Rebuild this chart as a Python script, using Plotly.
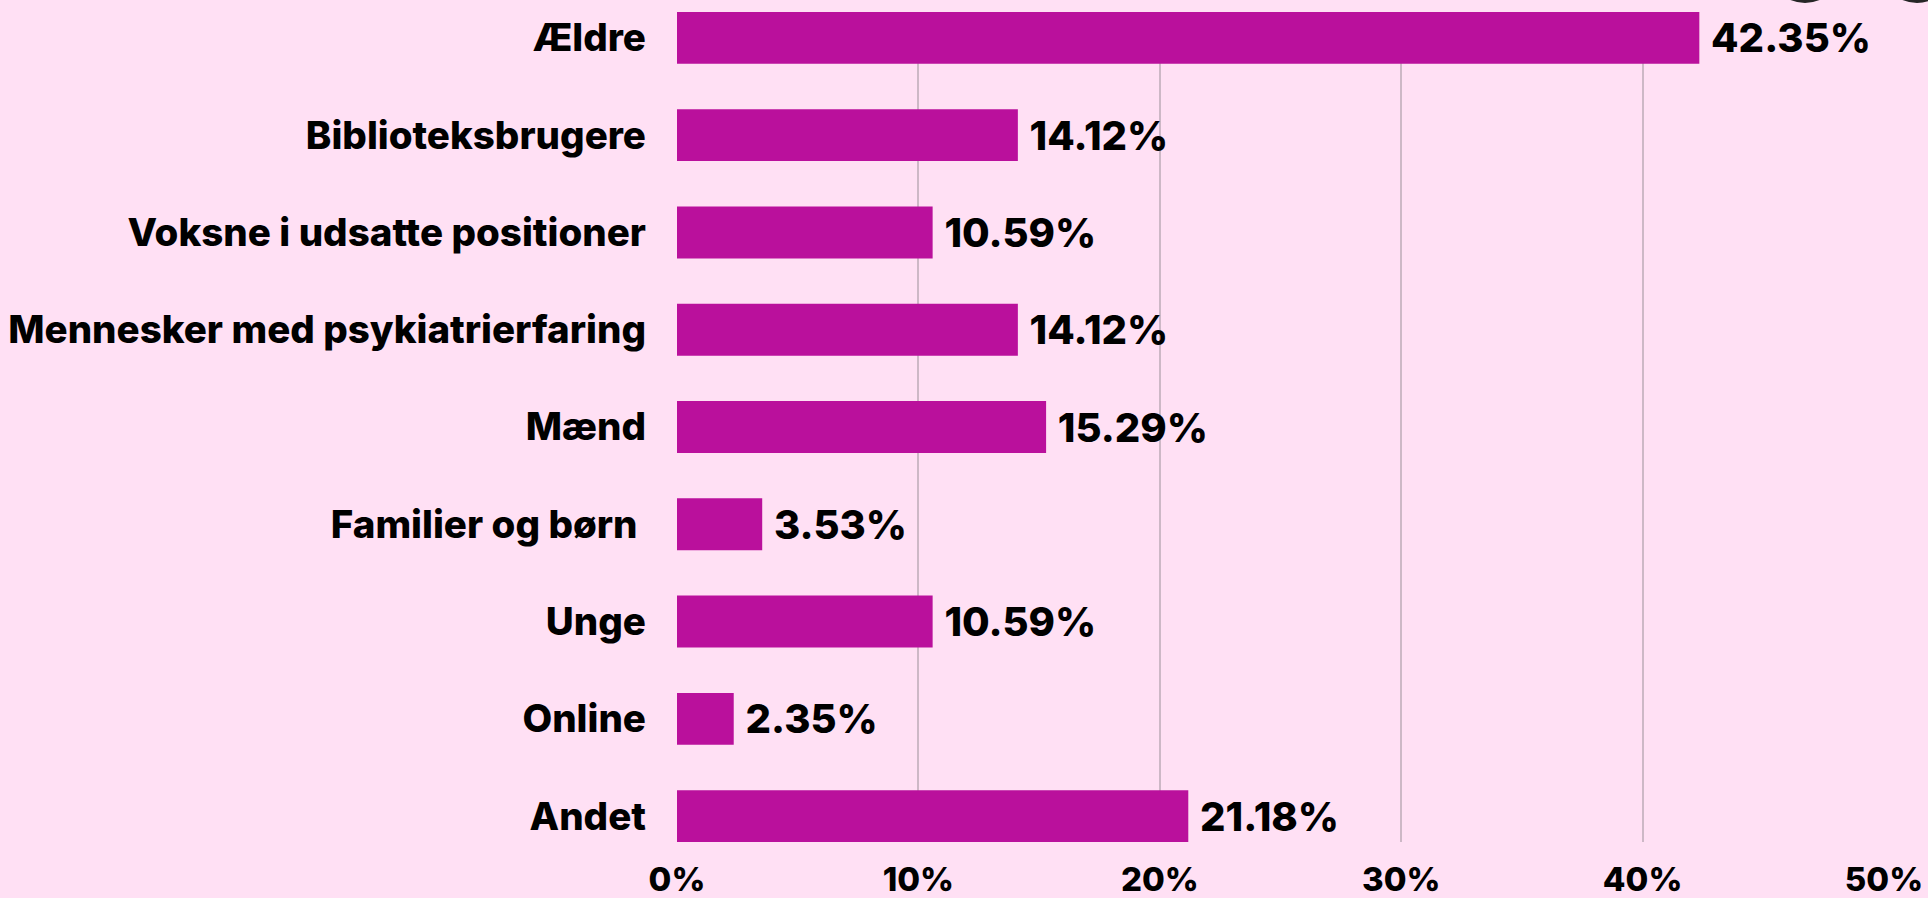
import plotly.graph_objects as go

categories = ["Ældre", "Biblioteksbrugere", "Voksne i udsatte positioner",
              "Mennesker med psykiatrierfaring", "Mænd", "Familier og børn\u00a0",
              "Unge", "Online", "Andet"]
values = [42.35, 14.12, 10.59, 14.12, 15.29, 3.53, 10.59, 2.35, 21.18]
labels = ["42.35%", "14.12%", "10.59%", "14.12%", "15.29%", "3.53%", "10.59%", "2.35%", "21.18%"]
x_ticks = [0, 10, 20, 30, 40, 50]
x_tick_labels = ["0%", "10%", "20%", "30%", "40%", "50%"]

BG = "#FFE0F4"
BAR = "#BA109C"
GRID = "#CDB8C6"
FONT = "Inter"

W, H = 1928, 898
ML, MR, MT, MB = 677, 44, 12, 56
bw = 0.533

fig = go.Figure(go.Bar(
    y=categories, x=values, orientation="h",
    marker=dict(color=BAR, line=dict(width=0)),
    width=bw,
    text=["\u00a0" + t for t in labels], textposition="outside",
    textfont=dict(family=FONT, size=40, color="#000000", weight=800),
    cliponaxis=False,
))

# partially visible dark circles at the top-right edge of the screenshot
pw, ph = W - ML - MR, H - MT - MB
def px_x(v):
    return (v - ML) / pw
def px_y(v):
    return (H - MB - v) / ph
for cx in (1805, 1917):
    fig.add_shape(type="circle", xref="paper", yref="paper",
                  x0=px_x(cx - 36), x1=px_x(cx + 36),
                  y0=px_y(3), y1=px_y(-69),
                  fillcolor="#262626", line=dict(width=0), layer="above")

fig.update_layout(
    width=W, height=H,
    paper_bgcolor=BG, plot_bgcolor=BG,
    margin=dict(l=ML, r=MR, t=MT, b=MB, autoexpand=False),
    showlegend=False,
    font=dict(family=FONT, color="#000000"),
    xaxis=dict(range=[0, 50], tickvals=x_ticks, ticktext=x_tick_labels,
               showgrid=True, gridcolor=GRID, gridwidth=1.5, zeroline=False,
               showline=False, ticks="", ticklabelstandoff=15, automargin=False,
               tickfont=dict(family=FONT, size=33, color="#000000", weight=800)),
    yaxis=dict(type="category", categoryorder="array", categoryarray=categories,
               range=[len(categories) - 1 + bw / 2, -bw / 2],
               showgrid=False, zeroline=False, showline=False, ticks="",
               ticklabelstandoff=30, automargin=False,
               tickfont=dict(family=FONT, size=38.5, color="#000000", weight=800)),
)

fig.write_html("out.html", config={"displayModeBar": False},
               post_script="document.body.style.margin='0';document.body.style.overflow='hidden';")
